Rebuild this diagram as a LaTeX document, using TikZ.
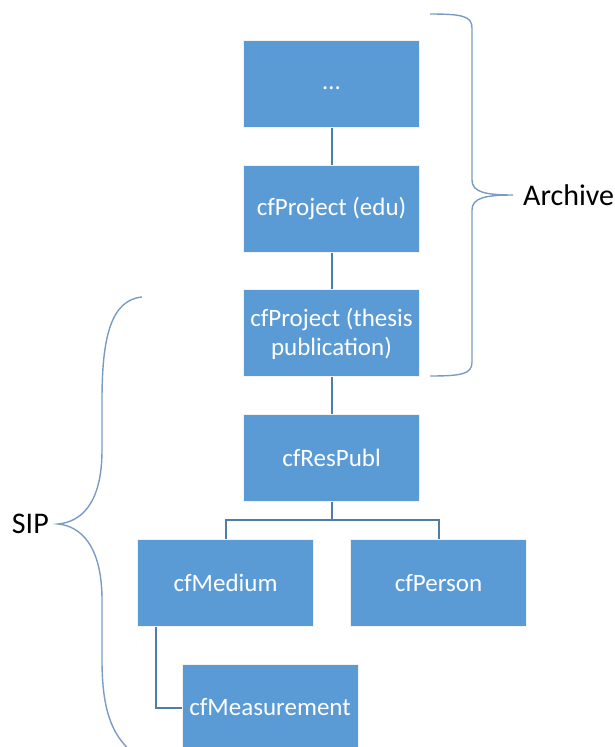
\documentclass[tikz,border=0pt]{standalone}
\usepackage{fontspec}
\setmainfont{Carlito}
\usepackage{xcolor}
\usetikzlibrary{positioning}
\definecolor{boxblue}{HTML}{5B9BD5}
\definecolor{linkblue}{HTML}{4E7CAB}
\definecolor{braceblue}{HTML}{7A9CC4}
\tikzset{
    tree/.style={x=1pt, y=-1pt, node distance=36.7pt},
    entity/.style={draw=white!90!gray, line width=1pt, fill=boxblue, text=white, inner sep=4pt,
        minimum width=176pt, minimum height=87pt, align=center, font=\fontsize{25}{29}\selectfont},
    link/.style={draw=linkblue, line width=2pt},
    grp/.style={draw=braceblue, line width=1.4pt},
    grplabel/.style={font=\fontsize{30}{34}\selectfont, inner sep=0pt},
}

\begin{document}
\begin{tikzpicture}[tree]
    \useasboundingbox (0,0) rectangle (614,747);

    \node[entity]                                      (dots)    at (331.5,84) {\vphantom{Ag}\ldots};
    \node[entity, below=of dots]                       (edu)     {cfProject (edu)};
    \node[entity, below=of edu]                        (thesis)  {cfProject (thesis\\publication)};
    \node[entity, below=of thesis]                     (respubl) {cfResPubl};
    \node[entity, below=of respubl, xshift=-106pt]     (medium)  {cfMedium};
    \node[entity, below=of respubl, xshift=107pt]      (person)  {cfPerson};
    \node[entity, below=of medium, xshift=44.5pt]      (measure) {cfMeasurement};

    % links of the tree
    \draw[link] (dots) -- (edu);
    \draw[link] (edu) -- (thesis);
    \draw[link] (thesis) -- (respubl);
    \draw[link] (respubl.south) -- ++(0,18) -| (medium.north);
    \draw[link] (respubl.south) -- ++(0,18) -| (person.north);
    \draw[link] ([xshift=-70pt]medium.south) |- (measure.west);

    % groups
    \node[grplabel, anchor=west] (archive) at (523,195) {Archive};
    \node[grplabel, anchor=east] (sip)     at (49,524)  {SIP};

    \draw[grp] (430,14) .. controls (462,14) and (472,16) .. (472,28)
        -- (472,180) .. controls (472,192) and (485,195) .. (513,195)
        .. controls (485,195) and (472,198) .. (472,210)
        -- (472,362) .. controls (472,374) and (462,376) .. (430,376);
    \draw[grp] (142,297) .. controls (110,300) and (102,340) .. (102,400)
        -- (102,450) .. controls (102,505) and (80,522) .. (58,524)
        .. controls (80,526) and (102,545) .. (102,600)
        -- (102,660) .. controls (102,710) and (112,735) .. (132,752);
\end{tikzpicture}
\end{document}
